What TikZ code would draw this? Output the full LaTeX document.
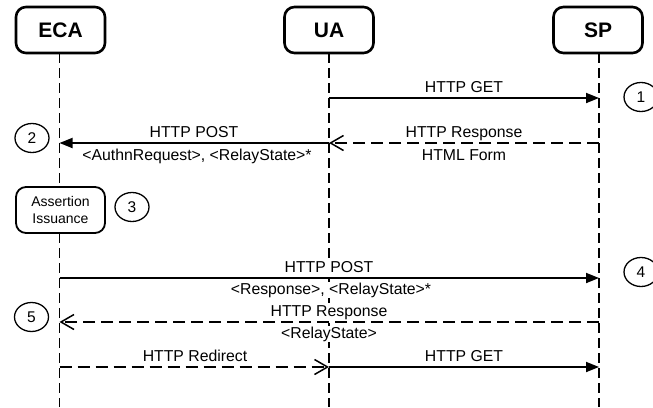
\documentclass[tikz,border=0pt]{standalone}
\usepackage{fontspec}
\setmainfont{Liberation Sans}
\usetikzlibrary{arrows.meta,shapes.geometric}
\begin{document}
\begin{tikzpicture}[x=1pt,y=-1pt,
  actor/.style={draw, line width=2.6pt, rounded corners=10pt, minimum width=89pt, minimum height=46pt, inner sep=0pt, font=\fontsize{21}{24}\selectfont\bfseries, fill=white},
  procbox/.style={draw, line width=1.8pt, rounded corners=10pt, minimum width=89pt, minimum height=46pt, inner sep=0pt, align=center, font=\fontsize{14}{17}\selectfont, fill=white},
  lifeline/.style={line width=1.3pt, dash pattern=on 10pt off 5pt},
  msg/.style={line width=1.8pt, -{Triangle[length=13pt,width=10pt]}},
  ret/.style={line width=1.5pt, dash pattern=on 12pt off 6pt, -{Straight Barb[length=13pt,width=15pt,line width=1.5pt]}},
  lbl/.style={anchor=base, inner sep=0.5pt, fill=white, font=\fontsize{15.8}{18}\selectfont},
  num/.style={draw, ellipse, line width=1.3pt, minimum width=34pt, minimum height=29pt, inner sep=0pt, font=\fontsize{15.5}{18}\selectfont},
  ]
\path[fill=white,use as bounding box] (0,0) rectangle (653,407);

% lifeline ends
\coordinate (ecaEnd) at (59.5,407);
\coordinate (uaEnd) at (329,407);
\coordinate (spEnd) at (599,407);

\draw[lifeline] (59.5,53) -- (ecaEnd);
\draw[lifeline] (329,53) -- (uaEnd);
\draw[lifeline] (599,53) -- (spEnd);

% actors
\node[actor] (eca) at (60.5,30) {ECA};
\node[actor] (ua) at (329,30) {UA};
\node[actor] (sp) at (598,30) {SP};

% message points
\coordinate (ua1) at (329,98);  \coordinate (sp1) at (599,98);
\coordinate (eca2) at (59.5,143); \coordinate (ua2) at (329,143); \coordinate (sp2) at (599,143);
\coordinate (eca4) at (59.5,278); \coordinate (sp4) at (599,278);
\coordinate (eca5) at (59.5,322); \coordinate (sp5) at (599,322);
\coordinate (eca6) at (59.5,367); \coordinate (ua6) at (329,367); \coordinate (sp6) at (599,367);

% step 1
\draw[msg] (ua1) -- (sp1);
\node[lbl] (l1) at (464,92) {HTTP GET};
\node[num] (n1) at (641,97) {1};

% step 2
\draw[msg] (ua2) -- (eca2);
\node[lbl] (l2a) at (194,137) {HTTP POST};
\node[lbl] (l2b) at (197,160) {<AuthnRequest>, <RelayState>*};
\draw[ret] (sp2) -- (ua2);
\node[lbl] (l2c) at (464,137) {HTTP Response};
\node[lbl] (l2d) at (464,160) {HTML Form};
\node[num] (n2) at (32,138) {2};

% step 3
\node[procbox] (assert) at (60.5,210) {Assertion\\Issuance};
\node[num] (n3) at (132,207) {3};

% step 4
\draw[msg] (eca4) -- (sp4);
\node[lbl] (l4a) at (329,272) {HTTP POST};
\node[lbl] (l4b) at (331,294) {<Response>, <RelayState>*};
\node[num] (n4) at (641,272) {4};

% step 5
\draw[ret] (sp5) -- (eca5);
\node[lbl] (l5a) at (329,316) {HTTP Response};
\node[lbl] (l5b) at (329,338) {<RelayState>};
\node[num] (n5) at (31.5,317) {5};

% step 6
\draw[ret] (eca6) -- (ua6);
\node[lbl] (l6a) at (195,361) {HTTP Redirect};
\draw[msg] (ua6) -- (sp6);
\node[lbl] (l6b) at (464,361) {HTTP GET};
\end{tikzpicture}
\end{document}
